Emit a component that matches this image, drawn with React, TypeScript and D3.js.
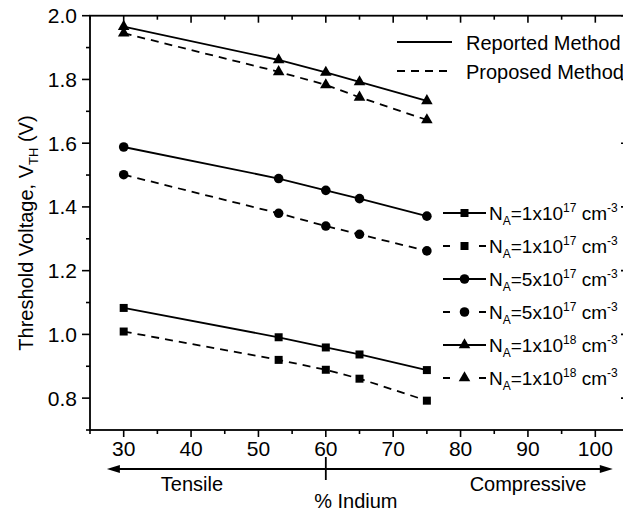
import React, { useEffect, useRef } from "react";
import * as d3 from "d3";

// % Indium
const indium = [30, 53, 60, 65, 75];

// threshold voltage (V) for each doping level
const reported1e17 = [1.083, 0.991, 0.959, 0.937, 0.888];
const proposed1e17 = [1.009, 0.92, 0.889, 0.861, 0.792];
const reported5e17 = [1.588, 1.489, 1.452, 1.426, 1.371];
const proposed5e17 = [1.501, 1.38, 1.34, 1.314, 1.262];
const reported1e18 = [1.966, 1.861, 1.822, 1.792, 1.733];
const proposed1e18 = [1.945, 1.824, 1.783, 1.744, 1.673];

const xTicks = [30, 40, 50, 60, 70, 80, 90, 100];
const xMinor = [25, 35, 45, 55, 65, 75, 85, 95, 105];
const yTicks = [0.8, 1.0, 1.2, 1.4, 1.6, 1.8, 2.0];
const yMinor = [0.7, 0.9, 1.1, 1.3, 1.5, 1.7, 1.9];

const FONT = "'Liberation Sans', Arial, Helvetica, sans-serif";
const DASH = "8,6";

const series = [
  { values: reported1e17, symbol: d3.symbolSquare, size: 64, dashed: false, mant: "1", exp: "17" },
  { values: proposed1e17, symbol: d3.symbolSquare, size: 64, dashed: true, mant: "1", exp: "17" },
  { values: reported5e17, symbol: d3.symbolCircle, size: 72, dashed: false, mant: "5", exp: "17" },
  { values: proposed5e17, symbol: d3.symbolCircle, size: 72, dashed: true, mant: "5", exp: "17" },
  { values: reported1e18, symbol: d3.symbolTriangle, size: 58, dashed: false, mant: "1", exp: "18" },
  { values: proposed1e18, symbol: d3.symbolTriangle, size: 58, dashed: true, mant: "1", exp: "18" },
];

const App = () => {
  const svgRef = useRef(null);

  useEffect(() => {
    const W = 623;
    const H = 516;
    const left = 90;
    const top = 15.7;
    const right = 629;
    const bottom = 430;

    const svg = d3.select(svgRef.current).attr("width", W).attr("height", H);
    svg.selectAll("*").remove();
    svg.append("rect").attr("width", W).attr("height", H).attr("fill", "#fff");

    const x = d3.scaleLinear().domain([25, 105]).range([left, right]);
    const y = d3.scaleLinear().domain([0.7, 2.0]).range([bottom, top]);

    const g = svg.append("g").attr("font-family", FONT).attr("fill", "#000");

    // frame
    g.append("rect")
      .attr("x", left)
      .attr("y", top)
      .attr("width", right - left)
      .attr("height", bottom - top)
      .attr("fill", "none")
      .attr("stroke", "#000")
      .attr("stroke-width", 1.8);

    const tick = (x1, y1, x2, y2) =>
      g.append("line")
        .attr("x1", x1).attr("y1", y1).attr("x2", x2).attr("y2", y2)
        .attr("stroke", "#000").attr("stroke-width", 1.6);

    // x ticks: bottom outward, top inward
    xTicks.forEach((v) => {
      tick(x(v), bottom, x(v), bottom + 7);
      tick(x(v), top, x(v), top + 7);
    });
    xMinor.forEach((v) => {
      tick(x(v), bottom, x(v), bottom + 4);
      tick(x(v), top, x(v), top + 4);
    });
    // y ticks: left outward, right inward
    yTicks.forEach((v) => {
      tick(left, y(v), left - 8, y(v));
      tick(right, y(v), right - 8, y(v));
    });
    yMinor.forEach((v) => {
      tick(left, y(v), left - 4, y(v));
      tick(right, y(v), right - 4, y(v));
    });

    g.selectAll(".xlab")
      .data(xTicks)
      .join("text")
      .attr("x", (d) => x(d))
      .attr("y", 456)
      .attr("text-anchor", "middle")
      .attr("font-size", 21)
      .text((d) => d);

    g.selectAll(".ylab")
      .data(yTicks)
      .join("text")
      .attr("x", 77)
      .attr("y", (d) => y(d) + 7.5)
      .attr("text-anchor", "end")
      .attr("font-size", 21)
      .text((d) => d.toFixed(1));

    // y axis title
    const yt = g.append("text")
      .attr("transform", "translate(33,233) rotate(-90)")
      .attr("text-anchor", "middle")
      .attr("font-size", 20);
    yt.append("tspan").text("Threshold Voltage, V");
    yt.append("tspan").attr("font-size", 13).attr("dy", 5).text("TH");
    yt.append("tspan").attr("dy", -5).text(" (V)");

    // data
    const line = d3.line().x((d) => x(d[0])).y((d) => y(d[1]));
    series.forEach((s) => {
      const pts = indium.map((v, i) => [v, s.values[i]]);
      g.append("path")
        .datum(pts)
        .attr("fill", "none")
        .attr("stroke", "#000")
        .attr("stroke-width", 1.8)
        .attr("stroke-dasharray", s.dashed ? DASH : null)
        .attr("d", line);
      g.selectAll(null)
        .data(pts)
        .join("path")
        .attr("transform", (d) => `translate(${x(d[0])},${y(d[1])})`)
        .attr("d", d3.symbol(s.symbol, s.size)());
    });

    // top-right legend
    [["Reported Method", false, 42], ["Proposed Method", true, 71]].forEach(([label, dashed, ly]) => {
      g.append("line")
        .attr("x1", 397).attr("x2", 452).attr("y1", ly).attr("y2", ly)
        .attr("stroke", "#000").attr("stroke-width", 1.8)
        .attr("stroke-dasharray", dashed ? DASH : null);
      g.append("text").attr("x", 466).attr("y", ly + 7.5).attr("font-size", 20).text(label);
    });

    // right legend
    series.forEach((s, i) => {
      const ly = 213 + i * 33;
      g.append("line")
        .attr("x1", 443).attr("x2", 486).attr("y1", ly).attr("y2", ly)
        .attr("stroke", "#000").attr("stroke-width", 1.8)
        .attr("stroke-dasharray", s.dashed ? "7,29,7" : null);
      g.append("path")
        .attr("transform", `translate(464.5,${ly})`)
        .attr("d", d3.symbol(s.symbol, s.size)());
      const t = g.append("text").attr("x", 489).attr("y", ly + 7).attr("font-size", 19);
      t.append("tspan").text("N");
      t.append("tspan").attr("font-size", 12).attr("dy", 5).text("A");
      t.append("tspan").attr("dy", -5).text(`=${s.mant}x10`);
      t.append("tspan").attr("font-size", 12).attr("dy", -8).text(s.exp);
      t.append("tspan").attr("dy", 8).text(" cm");
      t.append("tspan").attr("font-size", 12).attr("dy", -8).text("-3");
    });

    // strain annotation under the axis
    const ay = 469;
    const ax0 = x(27.5);
    const ax1 = x(102.6);
    g.append("line")
      .attr("x1", ax0 + 6).attr("x2", ax1 - 6).attr("y1", ay).attr("y2", ay)
      .attr("stroke", "#000").attr("stroke-width", 1.8);
    g.append("path").attr("d", `M${ax0},${ay}L${ax0 + 13},${ay - 4}L${ax0 + 13},${ay + 4}Z`);
    g.append("path").attr("d", `M${ax1},${ay}L${ax1 - 13},${ay - 4}L${ax1 - 13},${ay + 4}Z`);
    tick(x(60), 457, x(60), 480).attr("stroke-width", 1.8);

    g.append("text").attr("x", 192).attr("y", 491).attr("text-anchor", "middle").attr("font-size", 20).text("Tensile");
    g.append("text").attr("x", x(60) + 30).attr("y", 508).attr("text-anchor", "middle").attr("font-size", 20).text("% Indium");
    g.append("text").attr("x", 528).attr("y", 491).attr("text-anchor", "middle").attr("font-size", 20).text("Compressive");
  }, []);

  return <svg ref={svgRef} style={{ position: "absolute", left: 0, top: 0 }}></svg>;
};

export default App;
